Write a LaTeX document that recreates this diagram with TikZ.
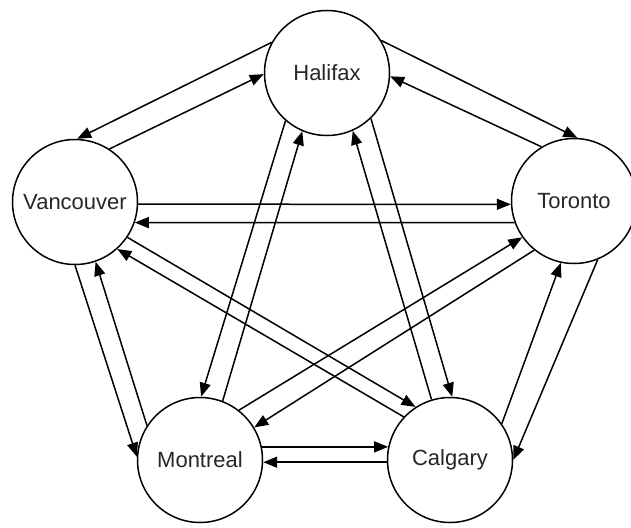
\documentclass[tikz,border=0pt]{standalone}
\usepackage{fontspec}
\setmainfont{Liberation Sans}
\usetikzlibrary{arrows.meta}
\begin{document}
\begin{tikzpicture}[x=1pt, y=-1pt,
  city/.style={circle, draw, line width=1.5pt, minimum size=125pt, inner sep=0pt,
    font=\fontsize{22}{24}\selectfont, text=black!85},
  >={Triangle[length=14pt, width=11pt]}, line width=1.5pt]
  \useasboundingbox (0,0) rectangle (631,527);
  \node[city] (H) at (327, 73)  {Halifax};
  \node[city] (V) at (75, 202)  {Vancouver};
  \node[city] (T) at (574, 201) {Toronto};
  \node[city] (M) at (200, 460) {Montreal};
  \node[city] (C) at (450, 460) {Calgary};
  \draw[->] (H.151.5) -- (V.88);
  \draw[->] (V.57)    -- (H.181);
  \draw[->] (H.31)    -- (T.87);
  \draw[->] (T.121)   -- (H.-3);
  \draw[->] (V.-2)    -- (T.183);
  \draw[->] (T.200)   -- (V.-19);
  \draw[->] (H.229)   -- (M.89);
  \draw[->] (M.69)    -- (H.247.5);
  \draw[->] (H.-46)   -- (C.88);
  \draw[->] (C.107)   -- (H.-66.7);
  \draw[->] (V.270)   -- (M.177);
  \draw[->] (M.147)   -- (V.-71);
  \draw[->] (V.-34)   -- (C.123);
  \draw[->] (C.137.6) -- (V.-48.4);
  \draw[->] (M.52)    -- (T.215.4);
  \draw[->] (T.231)   -- (M.31);
  \draw[->] (M.12)    -- (C.168);
  \draw[->] (C.182)   -- (M.-2);
  \draw[->] (C.35.6)  -- (T.258.5);
  \draw[->] (T.-68)   -- (C.0);
\end{tikzpicture}
\end{document}
